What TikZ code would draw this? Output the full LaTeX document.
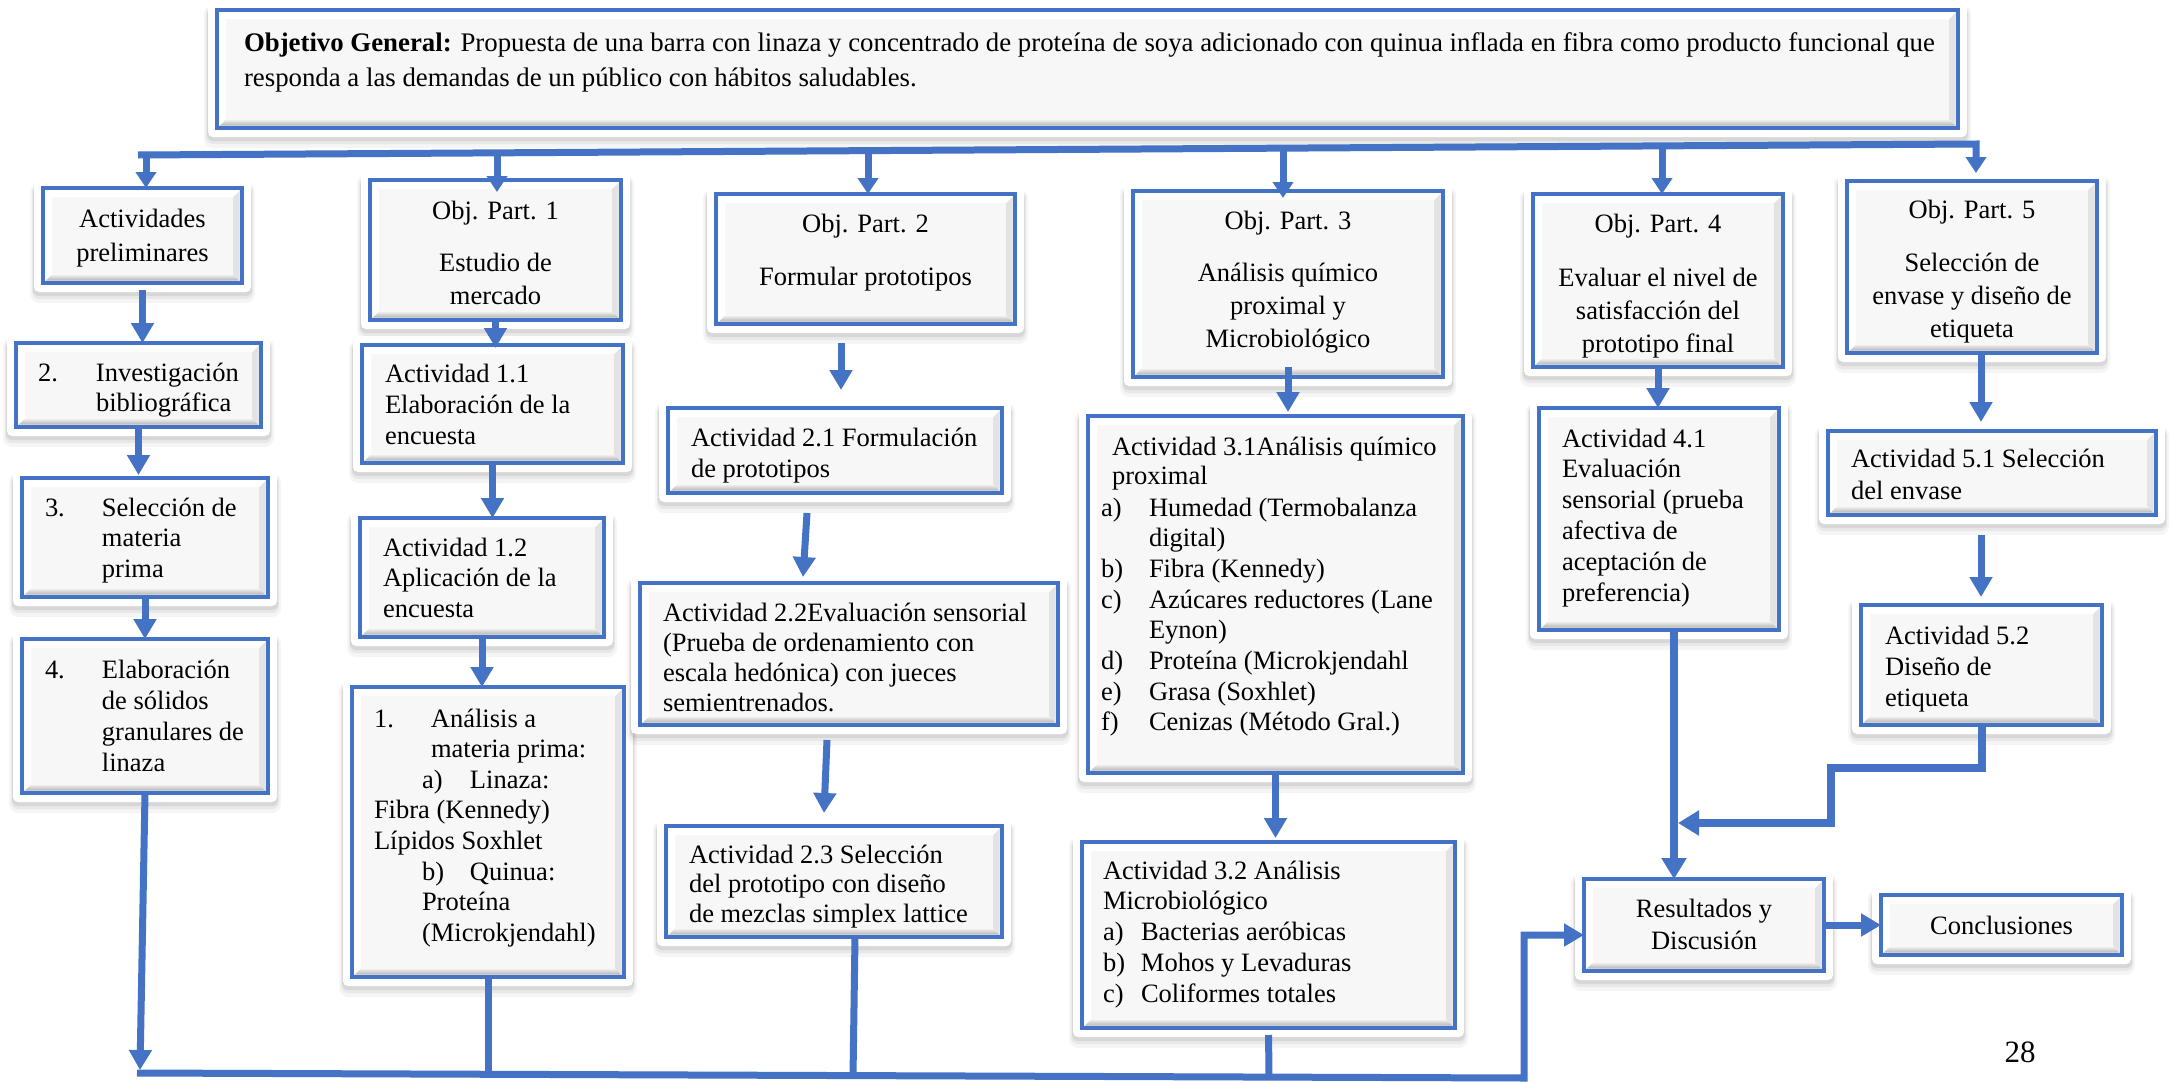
\documentclass[tikz,border=0pt]{standalone}
\usepackage{fontspec}
\setmainfont{Liberation Serif}
\usetikzlibrary{arrows.meta,calc}
\definecolor{bl}{RGB}{68,114,196}
\definecolor{boxfill}{RGB}{247,247,247}
\newcommand\bxfont[1]{\fontsize{26.5}{#1}\selectfont}
\newcommand\mybox[5]{%
  \fill[black,opacity=0.04,rounded corners=9] ({#2-13},{#3-5}) rectangle ({#4+13},{#5+20});
  \fill[black,opacity=0.05,rounded corners=7] ({#2-11},{#3-3}) rectangle ({#4+11},{#5+16});
  \fill[black,opacity=0.07,rounded corners=6] ({#2-10},{#3-1}) rectangle ({#4+10},{#5+13});
  \fill[white,rounded corners=5] ({#2-9},{#3-9}) rectangle ({#4+9},{#5+9});
  \node[bframe,minimum width={#4-#2},minimum height={#5-#3}] (#1) at ({(#2+#4)/2},{(#3+#5)/2}) {};
  \shade[top color=boxfill,bottom color=gray!60] ({#2+2.4},{#5-2.4}) -- ({#4-2.4},{#5-2.4}) -- ({#4-9},{#5-9}) -- ({#2+9},{#5-9}) -- cycle;
  \fill[gray!22] ({#4-2.4},{#3+2.4}) -- ({#4-2.4},{#5-2.4}) -- ({#4-9},{#5-9}) -- ({#4-9},{#3+9}) -- cycle;
  \fill[white] ({#2+2.4},{#3+2.4}) -- ({#4-2.4},{#3+2.4}) -- ({#4-9},{#3+9}) -- ({#2+9},{#3+9}) -- cycle;
  \fill[white] ({#2+2.4},{#3+2.4}) -- ({#2+2.4},{#5-2.4}) -- ({#2+9},{#5-9}) -- ({#2+9},{#3+9}) -- cycle;
}
\begin{document}
\begin{tikzpicture}[x=1pt,y=-1pt,
  bframe/.style={draw=bl,line width=4.5,fill=boxfill,inner sep=0,outer sep=0,rectangle},
  tx/.style={inner sep=0,outer sep=0,anchor=base west,font={\bxfont{30.7}}},
  txc/.style={inner sep=0,outer sep=0,anchor=base,font={\bxfont{33}}},
  cline/.style={draw=bl,line width=7},
  arr/.style={cline,-{Triangle[width=22pt,length=20pt]}},
  arrs/.style={cline,-{Triangle[width=20pt,length=16pt]}},
  arrw/.style={draw=bl,line width=8,-{Triangle[width=24pt,length=21pt]}}]
\useasboundingbox (0,0) rectangle (2172,1082);
\fill[white] (0,0) rectangle (2172,1082);

% boxes
\mybox{goal}{217}{10}{1958}{128}
\mybox{pre}{43}{188}{242}{283}
\mybox{inv}{16}{343}{261}{427}
\mybox{sel}{22}{478}{268}{597}
\mybox{elab}{22}{639}{268}{793}
\mybox{op1}{370}{180}{621}{320}
\mybox{a11}{362}{345}{623}{463}
\mybox{a12}{360}{518}{604}{637}
\mybox{anl}{352}{687}{624}{977}
\mybox{op2}{716}{194}{1015}{324}
\mybox{a21}{668}{408}{1002}{493}
\mybox{a22}{640}{583}{1058}{725}
\mybox{a23}{666}{826}{1002}{937}
\mybox{op3}{1133}{191}{1443}{377}
\mybox{a31}{1088}{416}{1463}{773}
\mybox{a32}{1082}{842}{1455}{1028}
\mybox{op4}{1533}{194}{1783}{367}
\mybox{a41}{1539}{408}{1779}{630}
\mybox{res}{1584}{879}{1824}{971}
\mybox{op5}{1847}{181}{2097}{353}
\mybox{a51}{1828}{431}{2156}{515}
\mybox{a52}{1861}{605}{2102}{725}
\mybox{con}{1881}{895}{2122}{955}

% texts
\node[tx,font={\fontsize{26.8}{35}\selectfont}] (goalt) at (244,51) {\parbox[t]{1780pt}{\raggedright\textbf{Objetivo General:} Propuesta de una barra con linaza y concentrado de proteína de soya adicionado con quinua inflada en fibra como producto funcional que\\responda a las demandas de un público con hábitos saludables.}};

\node[txc,font={\bxfont{34}}] (pret) at (142.5,227) {\parbox[t]{190pt}{\centering Actividades\\preliminares}};
\node[tx,font={\bxfont{30}}] (invt) at (38,381) {\parbox[t]{240pt}{\raggedright\makebox[58pt][l]{2.}Investigación\\\hspace*{58pt}bibliográfica}};
\node[tx,font={\bxfont{30.5}}] (selt) at (45,516) {\parbox[t]{240pt}{\raggedright\makebox[57pt][l]{3.}Selección de\\\hspace*{57pt}materia\\\hspace*{57pt}prima}};
\node[tx,font={\bxfont{31}}] (elabt) at (45,678) {\parbox[t]{240pt}{\raggedright\makebox[57pt][l]{4.}Elaboración\\\hspace*{57pt}de sólidos\\\hspace*{57pt}granulares de\\\hspace*{57pt}linaza}};

\node[txc] (op1t) at (495.5,219) {\parbox[t]{240pt}{\centering Obj. Part. 1\\[19pt]Estudio de\\mercado}};
\node[tx,font={\bxfont{31}}] (a11t) at (385,382) {\parbox[t]{240pt}{\raggedright Actividad 1.1\\Elaboración de la\\encuesta}};
\node[tx,font={\bxfont{30.5}}] (a12t) at (383,556) {\parbox[t]{240pt}{\raggedright Actividad 1.2\\Aplicación de la\\encuesta}};
\node[tx,font={\bxfont{30.6}}] (anlt) at (374,727) {\parbox[t]{260pt}{\raggedright\makebox[57pt][l]{1.}Análisis a\\\hspace*{57pt}materia prima:\\\hspace*{48pt}\makebox[48pt][l]{a)}Linaza:\\Fibra (Kennedy)\\Lípidos Soxhlet\\\hspace*{48pt}\makebox[48pt][l]{b)}Quinua:\\\hspace*{48pt}Proteína\\\hspace*{48pt}(Microkjendahl)}};

\node[txc] (op2t) at (865.5,232) {\parbox[t]{290pt}{\centering Obj. Part. 2\\[20pt]Formular prototipos}};
\node[tx,font={\bxfont{31}}] (a21t) at (691,446) {\parbox[t]{320pt}{\raggedright Actividad 2.1 Formulación\\de prototipos}};
\node[tx,font={\bxfont{30}}] (a22t) at (663,621) {\parbox[t]{400pt}{\raggedright Actividad 2.2Evaluación sensorial\\(Prueba de ordenamiento con\\escala hedónica) con jueces\\semientrenados.}};
\node[tx,font={\bxfont{29.5}}] (a23t) at (689,863) {\parbox[t]{320pt}{\raggedright Actividad 2.3 Selección\\del prototipo con diseño\\de mezclas simplex lattice}};

\node[txc] (op3t) at (1288,229) {\parbox[t]{300pt}{\centering Obj. Part. 3\\[19pt]Análisis químico\\proximal y\\Microbiológico}};
\node[tx,font={\bxfont{29}}] (a31t) at (1112,455) {\parbox[t]{360pt}{\raggedright Actividad 3.1Análisis químico\\proximal}};
\node[tx,font={\bxfont{30.7}}] (a31l) at (1101,516) {\parbox[t]{360pt}{\raggedright\makebox[48pt][l]{a)}Humedad (Termobalanza\\\hspace*{48pt}digital)\\\makebox[48pt][l]{b)}Fibra (Kennedy)\\\makebox[48pt][l]{c)}Azúcares reductores (Lane\\\hspace*{48pt}Eynon)\\\makebox[48pt][l]{d)}Proteína (Microkjendahl\\\makebox[48pt][l]{e)}Grasa (Soxhlet)\\\makebox[48pt][l]{f)}Cenizas (Método Gral.)}};
\node[tx,font={\bxfont{30.8}}] (a32t) at (1103,879) {\parbox[t]{360pt}{\raggedright Actividad 3.2 Análisis\\Microbiológico\\\makebox[38pt][l]{a)}Bacterias aeróbicas\\\makebox[38pt][l]{b)}Mohos y Levaduras\\\makebox[38pt][l]{c)}Coliformes totales}};

\node[txc] (op4t) at (1658,232) {\parbox[t]{240pt}{\centering Obj. Part. 4\\[21pt]Evaluar el nivel de\\satisfacción del\\prototipo final}};
\node[tx,font={\bxfont{30.8}}] (a41t) at (1562,447) {\parbox[t]{220pt}{\raggedright Actividad 4.1\\Evaluación\\sensorial (prueba\\afectiva de\\aceptación de\\preferencia)}};
\node[txc,font={\bxfont{32}}] (rest) at (1704,917) {\parbox[t]{230pt}{\centering Resultados y\\Discusión}};

\node[txc] (op5t) at (1972,218) {\parbox[t]{240pt}{\centering Obj. Part. 5\\[20pt]Selección de\\envase y diseño de\\etiqueta}};
\node[tx,font={\bxfont{32}}] (a51t) at (1851,467) {\parbox[t]{300pt}{\raggedright Actividad 5.1 Selección\\del envase}};
\node[tx,font={\bxfont{31}}] (a52t) at (1885,644) {\parbox[t]{220pt}{\raggedright Actividad 5.2\\Diseño de\\etiqueta}};
\node[txc] (cont) at (2001.5,934) {Conclusiones};
\node[inner sep=0,anchor=base,font={\fontsize{31}{35}\selectfont}] (page) at (2020,1062) {28};

% top distribution line
\coordinate (t0) at (138,155);
\coordinate (t6) at (1976,144);
\coordinate (d1) at (146,155);
\coordinate (d2) at (497,153);
\coordinate (d3) at (868,151);
\coordinate (d4) at (1283,148);
\coordinate (d5) at (1662,146);
\draw[arrs,shorten >=8] (t0) -- (t6) -- (t6 |- op5.north);
\draw[arrs] (d1) -- (d1 |- pre.north);
\draw[arrs,shorten >=-12] (d2) -- (d2 |- op1.north);
\draw[arrs] (d3) -- (d3 |- op2.north);
\draw[arrs,shorten >=-7] (d4) -- (d4 |- op3.north);
\draw[arrs] (d5) -- (d5 |- op4.north);

% column 1
\coordinate (b0) at (140,1070);
\draw[arr,shorten <=7] (pre.south) -- (pre.south |- inv.north);
\draw[arr,shorten >=3] (inv.south) -- (inv.south |- sel.north);
\draw[arr] (sel.south) -- (sel.south |- elab.north);
\draw[arr] (elab.south) -- (b0);

% column 2
\draw[arr,shorten >=-3] (op1.south) -- (op1.south |- a11.north);
\draw[arr] (a11.south) -- (a11.south |- a12.north);
\draw[arr] (a12.south) -- (a12.south |- anl.north);
\coordinate (m1) at (488,1076);
\draw[cline] (anl.south) -- (m1);

% column 3
\coordinate (x21) at (841,0);
\draw[arr,shorten <=19,shorten >=18] (x21 |- op2.south) -- (x21 |- a21.north);
\draw[arr] ($(a21.south)+(-28,20)$) -- ($(a22.north)+(-46,-6)$);
\draw[arr] ($(a22.south)+(-22,15)$) -- ($(a23.north)+(-10,-13)$);
\coordinate (x23) at (855,0);
\coordinate (m2) at (853,1077);
\draw[cline] (x23 |- a23.south) -- (m2);

% column 4
\draw[arr,shorten <=-10,shorten >=4] (op3.south) -- (op3.south |- a31.north);
\draw[arr,shorten >=4] (a31.south) -- (a31.south |- a32.north);
\coordinate (m3) at (1269,1078);
\draw[cline,shorten <=7] (a32.south) -- (m3);

% bottom collector
\coordinate (b1) at (137,1073);
\coordinate (b4) at (1524,1078);
\coordinate (b5) at (1524,935);
\draw[arr] (b1) -- (b4) -- (b5) -- (b5 -| res.west);

% column 5
\draw[arr] (op4.south) -- (op4.south |- a41.north);
\coordinate (x41) at (1674,0);
\draw[arrw] (x41 |- a41.south) -- (x41 |- res.north);
\coordinate (k1) at (1831,768);
\coordinate (k2) at (1831,823);
\coordinate (j) at (1678,823);
\draw[arrw] (a52.south) |- (k1) -- (k2) -- (j);
\draw[arr] (res.east) -- (con.west);

% column 6
\coordinate (x51) at (1981,0);
\draw[arr,shorten >=9] (x51 |- op5.south) -- (x51 |- a51.north);
\draw[arr,shorten <=20,shorten >=8] (x51 |- a51.south) -- (x51 |- a52.north);
\end{tikzpicture}
\end{document}
